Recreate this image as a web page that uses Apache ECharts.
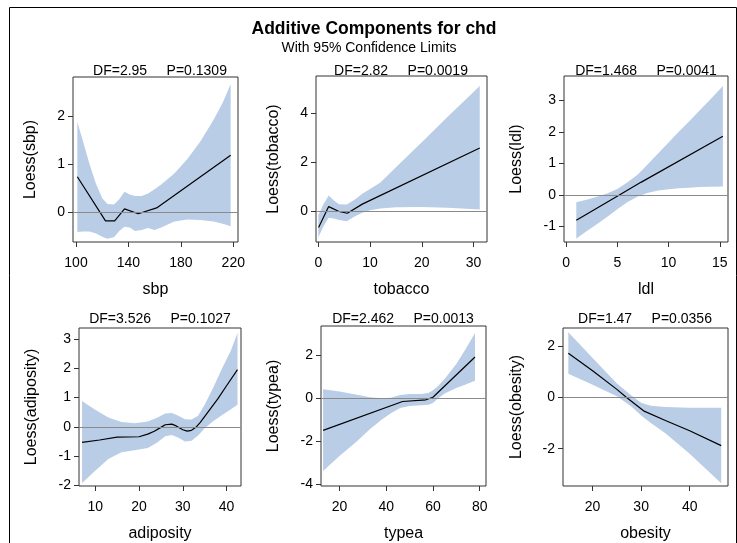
<!DOCTYPE html>
<html>
<head>
<meta charset="utf-8">
<script src="https://cdn.jsdelivr.net/npm/echarts@6/dist/echarts.min.js"></script>
<style>
  html, body { margin: 0; padding: 0; background: #fff; }
  #main { width: 737px; height: 543px; }
</style>
</head>
<body>
<div id="main"></div>
<script>
// panel labels
var varNames = ['sbp', 'tobacco', 'ldl', 'adiposity', 'typea', 'obesity'];
var dfLabels = ['DF=2.95     P=0.1309', 'DF=2.82     P=0.0019', 'DF=1.468     P=0.0041',
                'DF=3.526     P=0.1027', 'DF=2.462     P=0.0013', 'DF=1.47     P=0.0356'];

// sbp
var sbpLineX = [101, 122.5, 129.5, 137, 147.5, 161.5, 218];
var sbpLineY = [0.73, -0.19, -0.19, 0.06, -0.04, 0.08, 1.18];
var sbpBandX = [101, 105, 110, 115, 120, 124, 129, 133, 137, 141, 145, 150, 155, 160, 165, 175, 185, 195, 205, 212, 218];
var sbpHi = [1.87, 1.5, 1.02, 0.6, 0.28, 0.16, 0.15, 0.26, 0.42, 0.36, 0.33, 0.33, 0.38, 0.47, 0.57, 0.8, 1.1, 1.47, 1.92, 2.28, 2.66];
var sbpLo = [-0.42, -0.41, -0.41, -0.45, -0.52, -0.56, -0.53, -0.4, -0.31, -0.33, -0.4, -0.38, -0.34, -0.38, -0.33, -0.2, -0.16, -0.17, -0.2, -0.25, -0.3];

// tobacco
var tobLineX = [0.05, 2, 4, 5.6, 8.5, 31.2];
var tobLineY = [-0.65, 0.2, 0.0, -0.07, 0.3, 2.58];
var tobBandX = [0, 1, 2, 3, 4, 5.5, 7, 8.5, 10, 12, 15, 20, 25, 31.2];
var tobHi = [-0.15, 0.3, 0.65, 0.45, 0.3, 0.28, 0.48, 0.72, 0.92, 1.18, 1.8, 2.82, 3.85, 5.1];
var tobLo = [-1.05, -0.6, -0.25, -0.28, -0.35, -0.4, -0.2, -0.05, 0.05, 0.12, 0.17, 0.18, 0.15, 0.08];

// ldl
var ldlLineX = [1, 5.2, 7.3, 15.3];
var ldlLineY = [-0.8, 0.0, 0.4, 1.86];
var ldlBandX = [1, 2, 3, 4, 5, 6, 7, 8, 9, 10, 11, 12, 13, 14, 15.3];
var ldlHi = [-0.23, -0.15, -0.06, 0.05, 0.19, 0.4, 0.65, 0.98, 1.32, 1.66, 2.0, 2.33, 2.67, 3.0, 3.45];
var ldlLo = [-1.38, -1.15, -0.93, -0.7, -0.45, -0.22, -0.05, 0.07, 0.14, 0.18, 0.21, 0.23, 0.25, 0.26, 0.27];

// adiposity
var adiLineX = [7, 11, 15, 20, 22, 23.5, 25, 26, 27.5, 28.5, 30, 31, 32, 33, 34, 36, 38, 40, 42.5];
var adiLineY = [-0.53, -0.45, -0.35, -0.34, -0.25, -0.15, -0.02, 0.07, 0.09, 0.03, -0.1, -0.15, -0.12, -0.02, 0.15, 0.55, 0.95, 1.4, 1.95];
var adiBandX = [7, 10, 13, 16, 19, 22, 24, 26, 27.5, 29, 30.5, 32, 33.5, 35, 37, 39, 41, 42.5];
var adiHi = [0.88, 0.58, 0.32, 0.16, 0.12, 0.18, 0.3, 0.45, 0.47, 0.38, 0.26, 0.25, 0.38, 0.75, 1.35, 2.0, 2.6, 3.2];
var adiLo = [-1.92, -1.5, -1.1, -0.87, -0.8, -0.72, -0.55, -0.32, -0.28, -0.37, -0.5, -0.48, -0.3, -0.05, 0.2, 0.4, 0.6, 0.75];

// typea
var typLineX = [13, 47, 57, 60, 78];
var typLineY = [-1.5, -0.15, -0.07, 0.05, 1.93];
var typBandX = [13, 20, 27, 33, 38, 42, 46, 50, 55, 58, 60, 62, 65, 70, 74, 78];
var typHi = [0.42, 0.32, 0.18, 0.05, 0.0, 0.02, 0.15, 0.2, 0.2, 0.25, 0.38, 0.55, 0.9, 1.6, 2.3, 3.05];
var typLo = [-3.4, -2.7, -2.05, -1.45, -1.0, -0.7, -0.45, -0.36, -0.33, -0.3, -0.22, -0.02, 0.22, 0.48, 0.65, 0.82];

// obesity
var obeLineX = [15, 20, 25, 27, 30.5, 35, 40, 46.5];
var obeLineY = [1.73, 1.05, 0.32, 0.0, -0.52, -0.9, -1.3, -1.88];
var obeBandX = [15, 20, 25, 28, 30, 32, 35, 40, 46.5];
var obeHi = [2.55, 1.55, 0.55, 0.08, -0.2, -0.32, -0.37, -0.4, -0.4];
var obeLo = [0.93, 0.5, 0.05, -0.35, -0.7, -1.0, -1.4, -2.2, -3.35];

// tick labels
var xTicks = [[100, 140, 180, 220], [0, 10, 20, 30], [0, 5, 10, 15],
              [10, 20, 30, 40], [20, 40, 60, 80], [20, 30, 40]];
var yTicks = [[0, 1, 2], [0, 2, 4], [-1, 0, 1, 2, 3],
              [-2, -1, 0, 1, 2, 3], [-4, -2, 0, 2], [-2, 0, 2]];

var panels = [
    {lx: sbpLineX, ly: sbpLineY, bx: sbpBandX, hi: sbpHi, lo: sbpLo},
    {lx: tobLineX, ly: tobLineY, bx: tobBandX, hi: tobHi, lo: tobLo},
    {lx: ldlLineX, ly: ldlLineY, bx: ldlBandX, hi: ldlHi, lo: ldlLo},
    {lx: adiLineX, ly: adiLineY, bx: adiBandX, hi: adiHi, lo: adiLo},
    {lx: typLineX, ly: typLineY, bx: typBandX, hi: typHi, lo: typLo},
    {lx: obeLineX, ly: obeLineY, bx: obeBandX, hi: obeHi, lo: obeLo}
];

// layout (px)
var grids = [
    {left: 73, top: 77, width: 165, height: 165},
    {left: 316, top: 76, width: 171, height: 166},
    {left: 564, top: 76, width: 164, height: 166},
    {left: 79, top: 328, width: 162, height: 161},
    {left: 321, top: 326, width: 165, height: 163},
    {left: 563, top: 328, width: 165, height: 161}
];
var dfCenters = [160, 401, 646, 160, 403, 645];
var xRanges = [[97.7, 223.6], [-0.45, 32.6], [-0.2, 15.8], [6.3, 43.3], [12.1, 82.7], [13.9, 47.9]];
var yRanges = [[-0.63, 2.81], [-1.24, 5.51], [-1.49, 3.77], [-2.02, 3.37], [-4.1, 3.38], [-3.46, 2.72]];
var yNameGaps = [34, 34, 39, 39, 39, 38];

var fontFam = '"Liberation Sans", Arial, sans-serif';
var bandColor = '#b9cde6';

var chart = echarts.init(document.getElementById('main'));

var titles = [{
    text: 'Additive Components for chd',
    left: 374, top: 20, textAlign: 'center', padding: 0,
    textStyle: {fontFamily: fontFam, fontSize: 17.5, fontWeight: 'bold', color: '#000'}
}, {
    text: 'With 95% Confidence Limits',
    left: 369, top: 41, textAlign: 'center', padding: 0,
    textStyle: {fontFamily: fontFam, fontSize: 14, fontWeight: 'normal', color: '#000'}
}];
var xAxes = [], yAxes = [], series = [];
for (let i = 0; i < 6; i++) {
    let g = grids[i];
    grids[i] = {left: g.left, top: g.top, width: g.width, height: g.height,
                show: true, borderColor: '#333', borderWidth: 1, backgroundColor: '#fff'};
    titles.push({
        text: dfLabels[i],
        left: dfCenters[i], top: i < 3 ? 64 : 312, textAlign: 'center', padding: 0,
        textStyle: {fontFamily: fontFam, fontSize: 14, fontWeight: 'normal', color: '#000'}
    });
    xAxes.push({
        type: 'value', gridIndex: i, min: xRanges[i][0], max: xRanges[i][1],
        name: varNames[i], nameLocation: 'middle', nameGap: 40,
        nameTextStyle: {fontFamily: fontFam, fontSize: 16, color: '#000'},
        splitLine: {show: false},
        axisLine: {show: false, onZero: false},
        axisTick: {show: true, length: 5, customValues: xTicks[i], lineStyle: {color: '#333'}},
        axisLabel: {customValues: xTicks[i], margin: 14, fontFamily: fontFam, fontSize: 14, color: '#000'}
    });
    yAxes.push({
        type: 'value', gridIndex: i, min: yRanges[i][0], max: yRanges[i][1],
        name: 'Loess(' + varNames[i] + ')', nameLocation: 'middle', nameGap: yNameGaps[i],
        nameTextStyle: {fontFamily: fontFam, fontSize: 16, color: '#000'},
        splitLine: {show: false},
        axisLine: {show: false, onZero: false},
        axisTick: {show: true, length: 5, customValues: yTicks[i], lineStyle: {color: '#333'}},
        axisLabel: {customValues: yTicks[i], margin: 8, fontFamily: fontFam, fontSize: 14, color: '#000'}
    });
    let p = panels[i];
    series.push({
        type: 'custom', xAxisIndex: i, yAxisIndex: i, silent: true, z: 1,
        data: [[p.bx[0], p.lo[0]]],
        renderItem: function (params, api) {
            var pts = [];
            for (var k = 0; k < p.bx.length; k++) pts.push(api.coord([p.bx[k], p.hi[k]]));
            for (var k = p.bx.length - 1; k >= 0; k--) pts.push(api.coord([p.bx[k], p.lo[k]]));
            return {type: 'polygon', shape: {points: pts}, style: {fill: bandColor, stroke: null}};
        }
    });
    series.push({
        type: 'line', xAxisIndex: i, yAxisIndex: i, z: 3,
        data: p.lx.map(function (x, k) { return [x, p.ly[k]]; }),
        symbol: 'none', silent: true,
        lineStyle: {color: '#000', width: 1.2},
        markLine: {
            silent: true, symbol: 'none', label: {show: false},
            lineStyle: {color: '#8a8a8a', width: 1, type: 'solid'},
            data: [{yAxis: 0}]
        }
    });
}

chart.setOption({
    animation: false,
    backgroundColor: '#fff',
    title: titles,
    graphic: [{
        type: 'rect', left: 7, top: 5, z: -10,
        shape: {width: 727, height: 600},
        style: {fill: 'none', stroke: '#000', lineWidth: 1}
    }],
    grid: grids,
    xAxis: xAxes,
    yAxis: yAxes,
    series: series
});
</script>
</body>
</html>
